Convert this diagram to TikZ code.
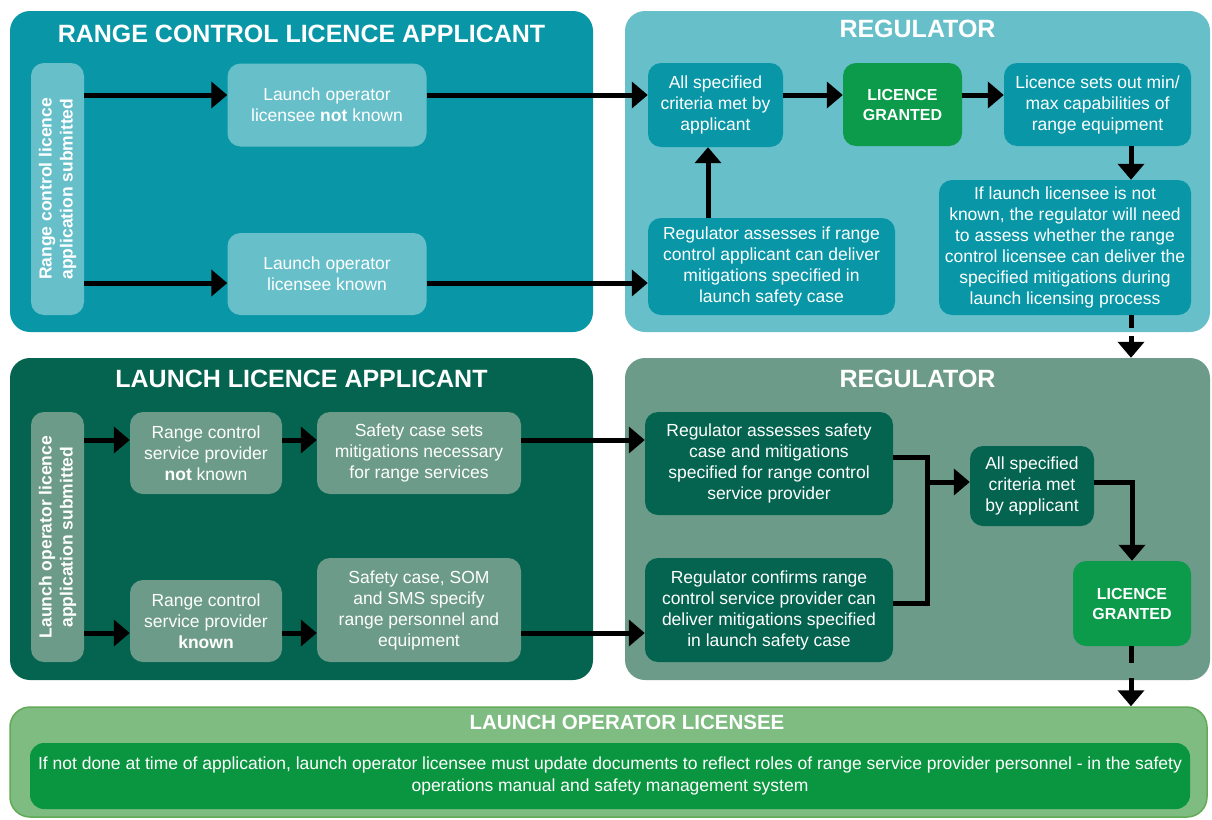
\documentclass[tikz,border=0pt]{standalone}
\usepackage{fontspec}
\setmainfont{Liberation Sans}
\usetikzlibrary{arrows.meta}

\definecolor{tealdark}{RGB}{9,151,167}
\definecolor{teallight}{RGB}{103,191,202}
\definecolor{forest}{RGB}{4,100,79}
\definecolor{sage}{RGB}{108,155,137}
\definecolor{grant}{RGB}{11,155,74}
\definecolor{leaf}{RGB}{126,188,129}
\definecolor{leafedge}{RGB}{99,170,87}
\definecolor{note}{RGB}{10,150,64}

\begin{document}
\begin{tikzpicture}[x=1pt,y=-1pt,
  panel/.style={rounded corners=20pt, inner sep=0pt},
  box/.style={rounded corners=13pt, inner sep=0pt, text=white, align=center,
    font=\fontsize{17.5}{21}\selectfont},
  grantbox/.style={box, fill=grant, font=\fontsize{16}{20}\selectfont\bfseries},
  ttl/.style={text=white, inner sep=0pt, font=\fontsize{25}{30}\selectfont\bfseries},
  sidetext/.style={rotate=90, text=white, align=center, inner sep=0pt,
    font=\fontsize{17.5}{21}\selectfont\bfseries},
  ln/.style={line width=5pt},
  arr/.style={line width=5pt, -{Triangle[width=26pt,length=16pt]}},
]
\useasboundingbox (0,0) rectangle (1212,819);

% ---------- panels ----------
\node[panel, fill=tealdark, minimum width=583pt, minimum height=321pt] (p1) at (301.5,171.5) {};
\node[panel, fill=teallight, minimum width=585pt, minimum height=321pt] (p2) at (917.5,171.5) {};
\node[panel, fill=forest, minimum width=583pt, minimum height=322pt] (p3) at (301.5,519) {};
\node[panel, fill=sage, minimum width=585pt, minimum height=322pt] (p4) at (917.5,519) {};
\node[panel, fill=leaf, draw=leafedge, line width=1.5pt, minimum width=1197pt, minimum height=110pt] (p5) at (608.5,762) {};

\node[ttl] (t1) at (301.5,33.5) {RANGE CONTROL LICENCE APPLICANT};
\node[ttl] (t2) at (917.5,29) {REGULATOR};
\node[ttl] (t3) at (301.5,379) {LAUNCH LICENCE APPLICANT};
\node[ttl] (t4) at (917.5,379) {REGULATOR};
\node[ttl, font=\fontsize{20.5}{24}\selectfont\bfseries] (t5) at (627,722) {LAUNCH OPERATOR LICENSEE};

% ---------- range control licence applicant ----------
\node[box, fill=teallight, minimum width=53pt, minimum height=252pt] (sub1) at (57.5,189) {};
\node[sidetext] (sub1t) at (sub1) {Range control licence\\application submitted};
\node[box, fill=teallight, minimum width=199pt, minimum height=83pt] (lnk) at (327,105) {Launch operator\\licensee \textbf{not} known};
\node[box, fill=teallight, minimum width=199pt, minimum height=82pt] (lk) at (327,274) {Launch operator\\licensee known};

% ---------- regulator (range control) ----------
\node[box, fill=tealdark, minimum width=135pt, minimum height=84pt] (crit1) at (715.5,105) {All specified\\criteria met by\\applicant};
\node[grantbox, minimum width=119pt, minimum height=83pt] (lic1) at (902.5,104.5) {LICENCE\\GRANTED};
\node[box, fill=tealdark, minimum width=187pt, minimum height=83pt] (caps) at (1097.5,104.5) {Licence sets out min/\\max capabilities of\\range equipment};
\node[box, fill=tealdark, minimum width=247pt, minimum height=97pt] (regA) at (771.5,266.5) {Regulator assesses if range\\control applicant can deliver\\mitigations specified in\\launch safety case};
\node[box, fill=tealdark, minimum width=252pt, minimum height=135pt] (ifl) at (1065,247.5) {If launch licensee is not\\known, the regulator will need\\to assess whether the range\\control licensee can deliver the\\specified mitigations during\\launch licensing process};

% ---------- launch licence applicant ----------
\node[box, fill=sage, minimum width=53pt, minimum height=250pt] (sub2) at (57.5,537) {};
\node[sidetext] (sub2t) at (sub2) {Launch operator licence\\application submitted};
\node[box, fill=sage, minimum width=152pt, minimum height=82pt] (rcn) at (206,453) {Range control\\service provider\\\textbf{not} known};
\node[box, fill=sage, minimum width=204pt, minimum height=82pt] (saf1) at (419,453) {Safety case sets\\mitigations necessary\\for range services};
\node[box, fill=sage, minimum width=152pt, minimum height=82pt] (rck) at (206,621) {Range control\\service provider\\\textbf{known}};
\node[box, fill=sage, minimum width=204pt, minimum height=104pt] (saf2) at (419,610) {Safety case, SOM\\and SMS specify\\range personnel and\\equipment};

% ---------- regulator (launch) ----------
\node[box, fill=forest, minimum width=248pt, minimum height=103pt] (rass) at (769,463.5) {Regulator assesses safety\\case and mitigations\\specified for range control\\service provider};
\node[box, fill=forest, minimum width=248pt, minimum height=104pt] (rcon) at (769,610) {Regulator confirms range\\control service provider can\\deliver mitigations specified\\in launch safety case};
\node[box, fill=forest, minimum width=124pt, minimum height=80pt] (crit2) at (1032,486) {All specified\\criteria met\\by applicant};
\node[grantbox, minimum width=118pt, minimum height=85pt] (lic2) at (1132,603.5) {LICENCE\\GRANTED};

% ---------- launch operator licensee ----------
\node[box, fill=note, rounded corners=14pt, minimum width=1160pt, minimum height=66pt,
  font=\fontsize{17.5}{22}\selectfont] (upd) at (610,776)
  {If not done at time of application, launch operator licensee must update documents to reflect roles of range service provider personnel - in the safety\\operations manual and safety management system};

% ---------- rows and columns used by the connectors ----------
\coordinate (rowA) at (0,95);
\coordinate (rowB) at (0,283);
\coordinate (rowC) at (0,440);
\coordinate (rowD) at (0,633);
\coordinate (colA) at (708,0);
\coordinate (colB) at (1131,0);
\coordinate (jx) at (927,0);
\coordinate (jtop) at (0,457);
\coordinate (jbot) at (0,603);
\coordinate (jout) at (0,482);
\coordinate (g1a) at (1131,328);
\coordinate (g1b) at (1131,336);
\coordinate (g2a) at (1131,663);
\coordinate (g2b) at (1131,678);

% ---------- connectors: range control ----------
\draw[arr] (sub1.east |- rowA) -- (lnk.west |- rowA);
\draw[arr] (lnk.east |- rowA) -- (crit1.west |- rowA);
\draw[arr] (sub1.east |- rowB) -- (lk.west |- rowB);
\draw[arr] (lk.east |- rowB) -- (regA.west |- rowB);
\draw[arr] (crit1.east |- rowA) -- (lic1.west |- rowA);
\draw[arr] (lic1.east |- rowA) -- (caps.west |- rowA);
\draw[arr] (regA.north -| colA) -- (crit1.south -| colA);
\draw[arr] (caps.south -| colB) -- (ifl.north -| colB);
\draw[ln] (ifl.south -| g1a) -- (g1a);
\draw[arr] (g1b) -- (p4.north -| g1b);

% ---------- connectors: launch ----------
\draw[arr] (sub2.east |- rowC) -- (rcn.west |- rowC);
\draw[arr] (rcn.east |- rowC) -- (saf1.west |- rowC);
\draw[arr] (saf1.east |- rowC) -- (rass.west |- rowC);
\draw[arr] (sub2.east |- rowD) -- (rck.west |- rowD);
\draw[arr] (rck.east |- rowD) -- (saf2.west |- rowD);
\draw[arr] (saf2.east |- rowD) -- (rcon.west |- rowD);
\draw[ln] (rass.east |- jtop) -- (jx |- jtop) -- (jx |- jbot) -- (rcon.east |- jbot);
\draw[arr] (jx |- jout) -- (crit2.west |- jout);
\draw[arr] (crit2.east |- jout) -| (lic2.north);
\draw[ln] (lic2.south -| g2a) -- (g2a);
\draw[arr] (g2b) -- (p5.north -| g2b);
\end{tikzpicture}
\end{document}
